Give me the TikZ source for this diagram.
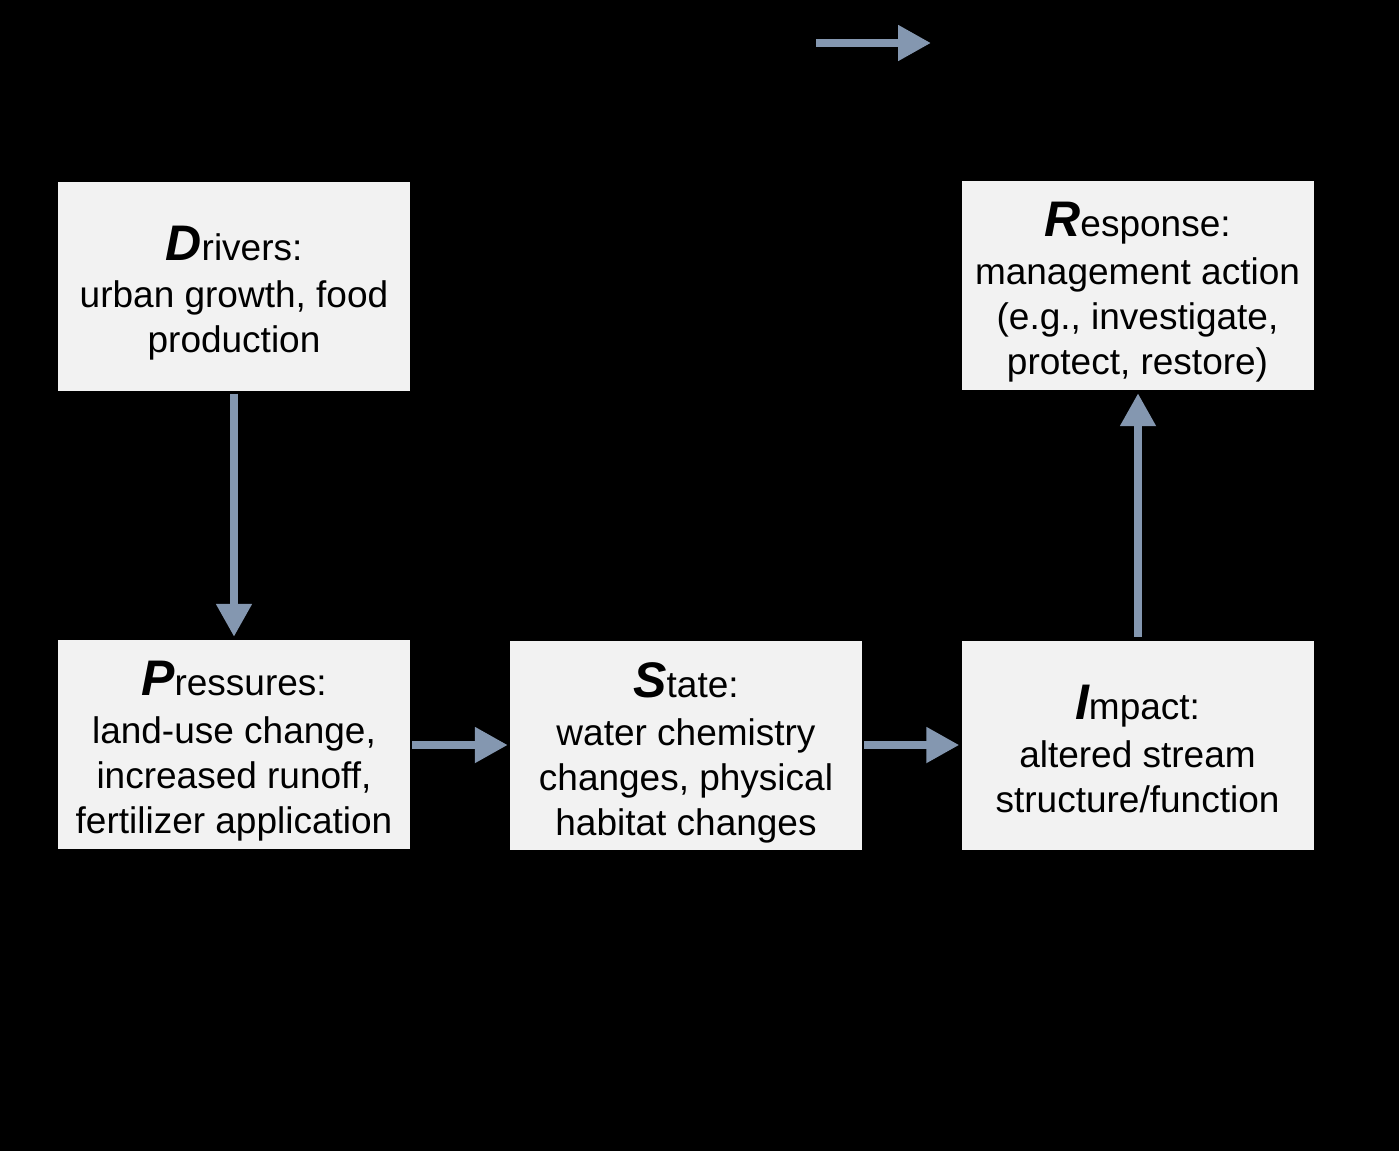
\documentclass[tikz,border=0pt]{standalone}
\usepackage{fontspec}
\setmainfont{Liberation Sans}
\usetikzlibrary{arrows.meta}
\definecolor{boxfill}{HTML}{F2F2F2}
\definecolor{arrowc}{HTML}{8497B0}
\tikzset{
  dpsirbox/.style={fill=boxfill, draw=none, minimum width=352pt, minimum height=209pt,
    inner sep=0pt, align=center, font=\fontsize{37}{45}\selectfont, text=black},
  flowarrow/.style={draw=arrowc, line width=8pt, -{Triangle[length=33pt,width=34pt]}}
}
\newcommand{\bigL}[1]{{\fontsize{50}{50}\selectfont\bfseries\itshape #1}}
\newcommand{\boxtext}[1]{\raisebox{-10pt}[\height][\depth]{\begin{tabular}{@{}c@{}}#1\end{tabular}}}
\begin{document}
\begin{tikzpicture}[x=1pt,y=-1pt]
\fill[black] (0,0) rectangle (1399,1151);
\useasboundingbox (0,0) rectangle (1399,1151);
\node[dpsirbox] (D) at (234,286) {\boxtext{\bigL{D}rivers:\\[2pt]urban growth, food\\production}};
\node[dpsirbox] (R) at (1137.5,285.5) {\boxtext{\bigL{R}esponse:\\[3pt]management action\\(e.g., investigate,\\protect, restore)}};
\node[dpsirbox] (P) at (234,744.5) {\boxtext{\bigL{P}ressures:\\[3pt]land-use change,\\increased runoff,\\fertilizer application}};
\node[dpsirbox] (S) at (686,745.5) {\boxtext{\bigL{S}tate:\\[3pt]water chemistry\\changes, physical\\habitat changes}};
\node[dpsirbox] (I) at (1137.5,745.5) {\boxtext{\bigL{I}mpact:\\[3pt]altered stream\\structure/function}};
\coordinate (legA) at (816,43);
\coordinate (legB) at (931,43);
\draw[flowarrow] (legA) -- (legB);
\draw[flowarrow, shorten <=3pt, shorten >=3pt] (D.south) -- (P.north);
\draw[flowarrow, shorten <=2pt, shorten >=2pt] (P.east |- 0,745) -- (S.west |- 0,745);
\draw[flowarrow, shorten <=2pt, shorten >=2pt] (S.east |- 0,745) -- (I.west |- 0,745);
\draw[flowarrow, shorten <=4pt, shorten >=3pt] (I.north -| 1138,0) -- (R.south -| 1138,0);
\end{tikzpicture}
\end{document}
